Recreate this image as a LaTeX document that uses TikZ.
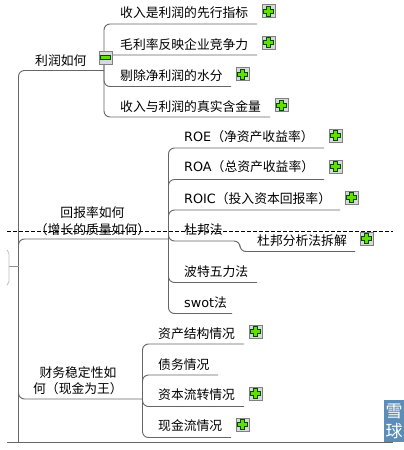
\documentclass[tikz,border=0pt]{standalone}
\usepackage{fontspec}
\setmainfont{Noto Sans CJK SC}
\newfontfamily\latinpart{DejaVu Sans}
\newcommand{\lat}[1]{{\latinpart #1}}
\definecolor{linegray}{HTML}{666666}
\definecolor{plusgreen}{HTML}{66DD00}
\definecolor{icongray}{HTML}{D8D8D8}
\definecolor{snowblue}{HTML}{5B8DB8}
\tikzset{
  x=1pt,y=-1pt,
  branch/.style={draw=linegray,line width=0.9pt,rounded corners=6pt},
  lbl/.style={font=\fontsize{12.8}{16.5}\selectfont,inner sep=0pt,anchor=west},
  lblc/.style={font=\fontsize{12.8}{16.5}\selectfont,inner sep=0pt,align=center},
  iconbox/.style={draw=gray,fill=icongray,minimum size=13pt,inner sep=0pt,line width=0.6pt},
}
\newcommand{\plusicon}[3]{%
  \node[iconbox] (#1) at (#2,#3) {};
  \fill[plusgreen,draw=black!70!green,line width=0.3pt] (#2-2,#3-5) -- (#2+2,#3-5) -- (#2+2,#3-2) -- (#2+5,#3-2) -- (#2+5,#3+2) -- (#2+2,#3+2) -- (#2+2,#3+5) -- (#2-2,#3+5) -- (#2-2,#3+2) -- (#2-5,#3+2) -- (#2-5,#3-2) -- (#2-2,#3-2) -- cycle;
}
\begin{document}
\begin{tikzpicture}
\useasboundingbox (0,0) rectangle (404,450);
\fill[white] (0,0) rectangle (404,450);
% hubs
\coordinate (root) at (18.5,266);
\coordinate (rootend) at (18.5,442);
\coordinate (hubA) at (104,70.5);
\coordinate (hubB) at (168.5,239);
\coordinate (hubC) at (142.5,399);
\coordinate (hubD) at (240,241);
% ends
\coordinate (a1) at (257,24);
\coordinate (a2) at (257,55);
\coordinate (a3) at (231,86.5);
\coordinate (a4) at (270,117);
\coordinate (b1) at (324,148);
\coordinate (b2) at (324,179.5);
\coordinate (b3) at (340,210);
\coordinate (b4) at (240,241);
\coordinate (d1) at (355,251.5);
\coordinate (b5) at (257,282.5);
\coordinate (b6) at (232,313.5);
\coordinate (c1) at (244,344);
\coordinate (c2) at (218,375);
\coordinate (c3) at (244,406.5);
\coordinate (c4) at (231,437.5);
\coordinate (baseL) at (7,442);
\coordinate (baseR) at (393,442);
\coordinate (dashL) at (7,231);
\coordinate (dashR) at (393,231);
\coordinate (tickL) at (9,266);
% main connectors
\draw[branch] (rootend) -- (root);
\draw[branch] (root) |- (hubA);
\draw[branch] (root) |- (hubB);
\draw[branch] (root) |- (hubC);
\draw[branch] (baseL) -- (baseR);
\foreach \e in {a1,a2,a3,a4} \draw[branch] (hubA) |- (\e);
\foreach \e in {b1,b2,b3,b5,b6} \draw[branch] (hubB) |- (\e);
\draw[branch] (hubB) -- (hubB|-b4) -- (hubD) |- (d1);
\foreach \e in {c1,c2,c3,c4} \draw[branch] (hubC) |- (\e);
% left stub
\draw[linegray!70,line width=0.6pt] (tickL) -- (root);
\draw[gray!50,line width=0.8pt,rounded corners=2pt] (7,250) -- (9,252) -- (9,283) -- (7,285);
% dashed line
\draw[black,line width=0.6pt,dash pattern=on 4pt off 2pt] (dashL) -- (dashR);
% labels
\node[lbl] (ta) at (35,61) {利润如何};
\node[lbl] (t1) at (120,13) {收入是利润的先行指标};
\node[lbl] (t2) at (120,45) {毛利率反映企业竞争力};
\node[lbl] (t3) at (120,76) {剔除净利润的水分};
\node[lbl] (t4) at (120,107) {收入与利润的真实含金量};
\node[lblc] (tb) at (92.5,221) {回报率如何\\（增长的质量如何）};
\node[lbl] (r1) at (184,137) {\lat{ROE}（净资产收益率）};
\node[lbl] (r2) at (184,167) {\lat{ROA}（总资产收益率）};
\node[lbl] (r3) at (184,199) {\lat{ROIC}（投入资本回报率）};
\node[lbl] (r4) at (184,230) {杜邦法};
\node[lbl] (r5) at (257,241) {杜邦分析法拆解};
\node[lbl] (r6) at (184,272) {波特五力法};
\node[lbl] (r7) at (184,303) {\lat{swot}法};
\node[lblc] (tc) at (78,380.5) {财务稳定性如\\何（现金为王）};
\node[lbl] (s1) at (158,334) {资产结构情况};
\node[lbl] (s2) at (158,365) {债务情况};
\node[lbl] (s3) at (158,395) {资本流转情况};
\node[lbl] (s4) at (158,426) {现金流情况};
% icons
\plusicon{p1}{268.5}{11}
\plusicon{p2}{268.5}{42.5}
\plusicon{p3}{242.5}{74}
\plusicon{p4}{281.5}{105}
\plusicon{p5}{335.5}{135.5}
\plusicon{p6}{335.5}{166.5}
\plusicon{p7}{351.5}{197.5}
\plusicon{p8}{366.5}{238.5}
\plusicon{p9}{255.5}{331.5}
\plusicon{p10}{255.5}{393.5}
\plusicon{p11}{242.5}{424.5}
\node[iconbox] (minus) at (105.5,57.5) {};
\fill[plusgreen,draw=black!70!green,line width=0.3pt] (100.5,55.5) rectangle (110.5,59.5);
% watermark
\node[fill=snowblue,text=white,minimum width=20pt,minimum height=42pt,inner sep=0pt,align=center,font=\fontsize{17}{20}\selectfont,anchor=north west] (snow) at (384,400) {雪\\球};
\end{tikzpicture}
\end{document}
